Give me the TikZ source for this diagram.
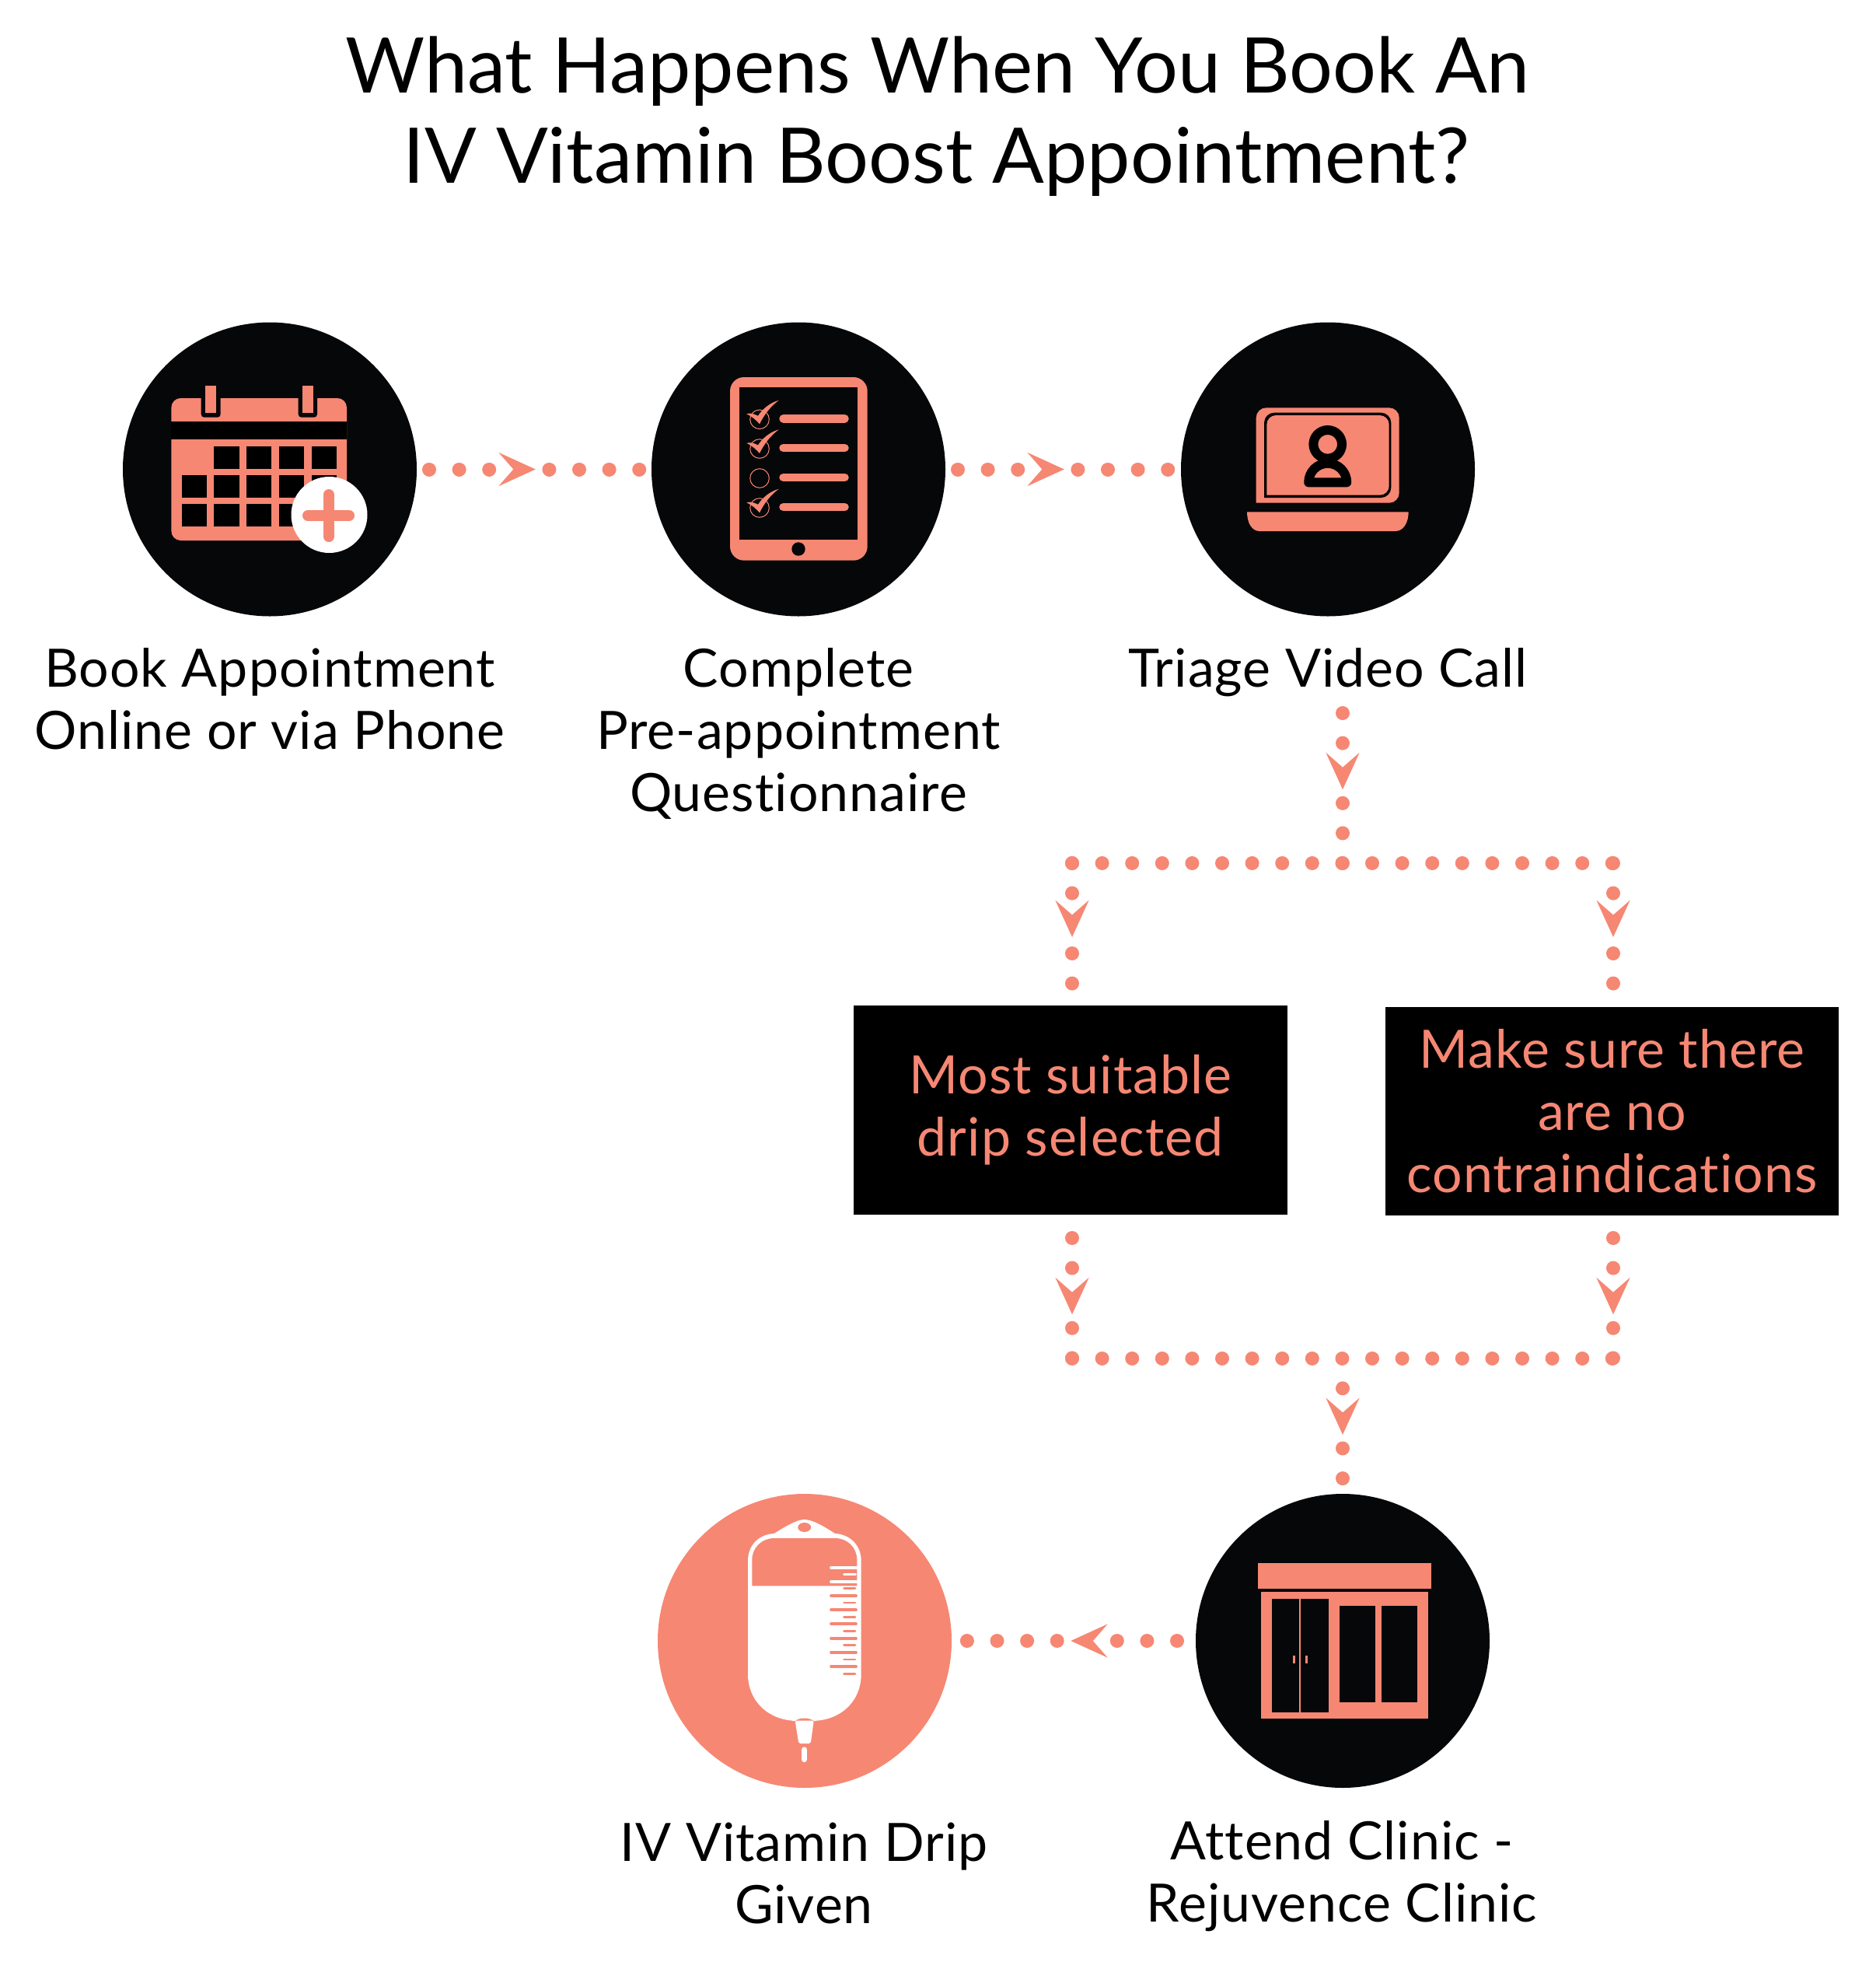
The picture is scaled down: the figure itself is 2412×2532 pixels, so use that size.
\documentclass[tikz,border=0pt]{standalone}
\usepackage{fontspec}
\setmainfont{Lato}[Ligatures=CommonOff]
\newfontfamily\labfont{Lato}[LetterSpace=1.5,Ligatures=CommonOff]
\definecolor{peach}{HTML}{F68773}
\definecolor{ink}{HTML}{060709}
\tikzset{
  x=1pt,y=-1pt,
  blob/.style={circle,fill=ink,minimum size=378pt,inner sep=0pt,outer sep=0pt},
  peachblob/.style={blob,fill=peach},
  titletext/.style={anchor=base,font=\fontsize{98.7}{116}\selectfont,text=black,inner sep=0pt},
  lab/.style={anchor=base,font=\labfont\fontsize{68}{80}\selectfont,text=black,inner sep=0pt},
  stepbox/.style={fill=black,inner sep=0pt,outer sep=0pt,text=peach,align=center,font=\labfont\fontsize{68}{80}\selectfont},
  dots/.style={draw=peach,line width=18pt,line cap=round,dash pattern=on 0.01pt off 38.59pt,shorten >=-0.6pt},
  flowhead/.pic={\fill[peach] (-26.5,-21.7) -- (21,0) -- (-26.5,21.7) -- (-7.5,0) -- cycle;},
}
\begin{document}
\begin{tikzpicture}
\useasboundingbox (0,0) rectangle (2412,2532);
% titles
\node[titletext] (t1) at (1206,119) {What Happens When You Book An};
\node[titletext] (t2) at (1204.5,235) {IV Vitamin Boost Appointment?};
% circles
\node[blob] (c1) at (347,603.5) {};
\node[blob] (c2) at (1027,603.5) {};
\node[blob] (c3) at (1708,603.5) {};
\node[blob] (c4) at (1727,2110) {};
\node[peachblob] (c5) at (1035,2110) {};
% labels
\node[lab] (l1a) at (347,883) {Book Appointment};
\node[lab] (l1b) at (347,963) {Online or via Phone};
\node[lab] (l2a) at (1027,883) {Complete};
\node[lab] (l2b) at (1027,963) {Pre-appointment};
\node[lab] (l2c) at (1027,1043) {Questionnaire};
\node[lab] (l3a) at (1708,883) {Triage Video Call};
\node[lab] (l5a) at (1034,2393) {IV Vitamin Drip};
\node[lab] (l5b) at (1034,2473) {Given};
\node[lab] (l4a) at (1726,2391) {Attend Clinic -};
\node[lab] (l4b) at (1726,2471) {Rejuvence Clinic};
% boxes
\node[stepbox,minimum width=558pt,minimum height=268.5pt] (b1) at (1376.8,1427.5) {Most suitable\\drip selected};
\node[stepbox,minimum width=583pt,minimum height=268.5pt] (b2) at (2073.5,1429.2) {Make sure there\\are no\\contraindications};
% connector way-points
\coordinate (a1) at (667.8,603.5);
\coordinate (a2) at (1347.8,603.5);
\coordinate (tstart) at (1727,917);
\coordinate (a3) at (1727,994.2);
\coordinate (jt) at (1727,1110);
\coordinate (jtl) at (1379,1110);
\coordinate (jtr) at (2075,1110);
\coordinate (a4) at (1379,1184);
\coordinate (a5) at (2075,1184);
\coordinate (b1top) at (1379,1264.6);
\coordinate (b2top) at (2075,1264.6);
\coordinate (b1bot) at (1379,1592);
\coordinate (b2bot) at (2075,1592);
\coordinate (a6) at (1379,1669.2);
\coordinate (a7) at (2075,1669.2);
\coordinate (jb) at (1727,1746.7);
\coordinate (jbl) at (1379,1746.7);
\coordinate (jbr) at (2075,1746.7);
\coordinate (a8) at (1727,1823.9);
\coordinate (a9) at (1398.3,2110);
% connectors
\draw[dots] ([xshift=16pt]c1.east) -- ([xshift=-38.6pt]a1);
\draw[dots] ([xshift=38.6pt]a1) -- ([xshift=-16pt]c2.west);
\draw[dots] ([xshift=16pt]c2.east) -- ([xshift=-38.6pt]a2);
\draw[dots] ([xshift=38.6pt]a2) -- ([xshift=-16pt]c3.west);
\draw[dots] (tstart) -- ([yshift=38.6pt]a3);
\draw[dots] ([yshift=-38.6pt]a3) -- (jt);
\draw[dots] (jtl) -- (jtr);
\draw[dots] ([yshift=-38.6pt]jtl) -- (jtl);
\draw[dots] ([yshift=-38.6pt]jtr) -- (jtr);
\draw[dots] ([yshift=-42pt]a4) -- (b1top);
\draw[dots] ([yshift=-42pt]a5) -- (b2top);
\draw[dots] (b1bot) -- ([yshift=38.6pt]a6);
\draw[dots] (b2bot) -- ([yshift=38.6pt]a7);
\draw[dots] ([yshift=-38.6pt]a6) -- (jbl);
\draw[dots] ([yshift=-38.6pt]a7) -- (jbr);
\draw[dots] (jbl) -- (jbr);
\draw[dots] ([yshift=-38.6pt]jb) -- ([yshift=38.6pt]a8);
\draw[dots] ([yshift=-38.6pt]a8) -- ([yshift=19.9pt]c4.north);
\draw[dots] ([xshift=-24pt]c4.west) -- ([xshift=38.6pt]a9);
\draw[dots] ([xshift=-38.6pt]a9) -- ([xshift=20pt]c5.east);
\pic at (a1) {flowhead};
\pic at (a2) {flowhead};
\pic[rotate=-90] at (a3) {flowhead};
\pic[rotate=-90] at (a4) {flowhead};
\pic[rotate=-90] at (a5) {flowhead};
\pic[rotate=-90] at (a6) {flowhead};
\pic[rotate=-90] at (a7) {flowhead};
\pic[rotate=-90] at (a8) {flowhead};
\pic[rotate=180] at (a9) {flowhead};
% calendar icon
\fill[peach,rounded corners=12pt] (220.4,512) rectangle (446,695);
\fill[black] (220.4,542.3) rectangle (446,565);
\foreach \xa/\xb in {233.7/265.8,275/307.7,316.8/349,359/390.8,400.5/433}{
  \foreach \ya/\yb in {611.3/639.7,648/676.7}{\fill[black] (\xa,\ya) rectangle (\xb,\yb);}
}
\foreach \xa/\xb in {275/307.7,316.8/349,359/390.8,400.5/433}{\fill[black] (\xa,574.3) rectangle (\xb,603);}
\fill[ink,rounded corners=4pt] (258.7,505) rectangle (283.7,536.7);
\fill[ink,rounded corners=4pt] (383.7,505) rectangle (408,536.7);
\fill[ink] (258.7,505) rectangle (283.7,512);
\fill[ink] (383.7,505) rectangle (408,512);
\fill[peach] (264.3,496) rectangle (277.6,530.7);
\fill[peach] (388.8,496) rectangle (402.5,530.7);
\fill[white] (423.5,662) circle (49);
\draw[peach,line width=14pt,line cap=round] (423,636) -- (423,690) (396,663) -- (449,663);
% tablet icon
\fill[peach,rounded corners=18pt] (939,485) rectangle (1115.7,720.7);
\fill[ink] (951.3,497.7) rectangle (1103.3,694);
\fill[ink] (1027,706) circle (8.7);
\foreach \yy in {538.3,576,614,652}{
  \draw[peach,line width=10.7pt,line cap=round] (1007.6,\yy) -- (1086.4,\yy);
  \draw[peach,line width=1pt] (977,\yy+1) circle (12.3);
}
\foreach \yy in {538.8,576.4,652.8}{
  \fill[peach] (960.3,\yy-6.5) .. controls (965,\yy-8) and (969,\yy-7) .. (975,\yy-4)
    .. controls (980,\yy-12) and (990,\yy-21) .. (1001.7,\yy-24)
    .. controls (992,\yy-17) and (983,\yy-6) .. (977,\yy+6.5)
    .. controls (973,\yy+2) and (968,\yy-3) .. cycle;
}
% laptop icon
\fill[peach,rounded corners=13pt] (1615.7,646.7) -- (1615.7,524.3) -- (1799.7,524.3) -- (1799.7,646.7) [sharp corners] -- cycle;
\fill[black,rounded corners=13pt] (1626,640) -- (1626,530.7) -- (1789.3,530.7) -- (1789.3,640) [sharp corners] -- cycle;
\fill[peach,rounded corners=12pt] (1629.3,636.7) -- (1629.3,534) -- (1786.7,534) -- (1786.7,636.7) [sharp corners] -- cycle;
\draw[black,fill=peach,line width=12pt,line join=round] (1683.2,620.3) arc[start angle=180,end angle=360,radius=24.5] -- cycle;
\draw[black,fill=peach,line width=12pt] (1707.7,571.3) circle (18.3);
\fill[peach] (1604,658.3) -- (1811.7,658.3) .. controls (1811.7,672) and (1805,683) .. (1795,683) -- (1620,683) .. controls (1610,683) and (1604,672) .. cycle;
% clinic icon
\fill[peach] (1618,2010.3) rectangle (1840.7,2042.7);
\fill[peach] (1621.7,2047.3) rectangle (1837.3,2210);
\fill[ink] (1636,2056) rectangle (1671.3,2201.7);
\fill[ink] (1673.3,2056) rectangle (1708.7,2201.7);
\fill[ink] (1723,2065.3) rectangle (1768.7,2189);
\fill[ink] (1777,2065.3) rectangle (1822.7,2189);
\fill[peach] (1663,2129.3) rectangle (1665.7,2139);
\fill[peach] (1679,2129.3) rectangle (1681.7,2139);
% drip icon
\fill[white] (962,2153) -- (962,2007) .. controls (962,1987) and (976,1973) .. (995.7,1972)
  .. controls (1010,1963) and (1025,1954) .. (1034.7,1954)
  .. controls (1045,1954) and (1060,1963) .. (1074,1972)
  .. controls (1093,1973) and (1107.7,1987) .. (1107.7,2007)
  -- (1107.7,2153) .. controls (1107.7,2185) and (1085,2210) .. (1050,2212.7)
  -- (1020,2212.7) .. controls (985,2210) and (962,2185) .. cycle;
\fill[peach] (967.3,2039.3) -- (967.3,2006) .. controls (967.3,1990) and (980,1978) .. (996,1978)
  -- (1074,1978) .. controls (1090,1978) and (1102.3,1990) .. (1102.3,2006) -- (1102.3,2039.3) -- cycle;
\fill[peach] (1034.7,1964) ellipse [x radius=8.5,y radius=6];
\foreach \yy in {2015.7,2034}{\draw[white,line width=3.7pt,line cap=round] (1069,\yy) -- (1103,\yy);}
\draw[white,line width=2.7pt,line cap=round] (1085.5,2024.7) -- (1100.5,2024.7);
\foreach \yy in {2052.3,2070.3,2088.3,2106.7,2125,2143}{\draw[peach,line width=3.7pt,line cap=round] (1069,\yy) -- (1101,\yy);}
\foreach \yy in {2042.7,2061,2079.3,2097.3,2115.7,2134,2152.3}{\draw[peach,line width=2.7pt,line cap=round] (1085.5,\yy) -- (1100,\yy);}
\fill[white] (1019,2213) .. controls (1022,2208) and (1028,2206) .. (1034.7,2206) .. controls (1041,2206) and (1047,2208) .. (1050,2213) -- cycle;
\fill[peach] (1022,2214) .. controls (1025,2210.5) and (1030,2209.5) .. (1034.7,2209.5) .. controls (1039,2209.5) and (1044,2210.5) .. (1048,2214) -- cycle;
\fill[white,rounded corners=2pt] (1022.7,2212.7) -- (1046.7,2212.7) -- (1042.7,2242) -- (1027.3,2242) -- cycle;
\draw[white,line width=7.3pt,line cap=round] (1034.7,2250) -- (1034.7,2262.5);
\end{tikzpicture}
\end{document}
